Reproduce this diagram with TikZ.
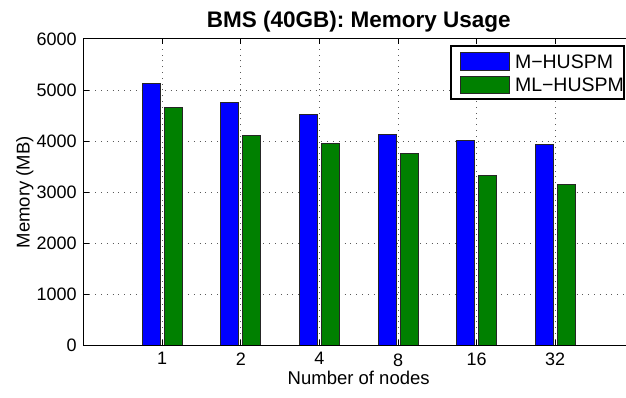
\documentclass[tikz,border=0pt]{standalone}
\usepackage{fontspec}
\setmainfont{Liberation Sans}
\definecolor{barblue}{rgb}{0,0,1}
\definecolor{bargreen}{rgb}{0,0.5,0}
\begin{document}
\begin{tikzpicture}[x=1pt,y=1pt,
  every node/.style={inner sep=0pt, outer sep=0pt},
  ticklabel/.style={font=\fontsize{18}{20}\selectfont},
  axislabel/.style={font=\fontsize{18.5}{21}\selectfont},
  legendlabel/.style={font=\fontsize{19.5}{22}\selectfont},
  titlelabel/.style={font=\fontsize{22.5}{25}\selectfont\bfseries},
  gridline/.style={black!65, line width=0.7pt, dash pattern=on 0.8pt off 5pt},
  axisline/.style={black, line width=1.1pt},
  barM/.style={fill=barblue, draw=black!85, line width=0.9pt},
  barML/.style={fill=bargreen, draw=black!85, line width=0.9pt},
  legendbox/.style={fill=white, draw=black, line width=1.2pt}]
\useasboundingbox (0,0) rectangle (626,398);
\clip (0,0) rectangle (626,398);
\fill[white] (0,0) rectangle (626,398);

% plot area: categories 0..7, memory 0..6000 MB
\begin{scope}[shift={(83.6,52.5)}, x=78.6pt, y=0.0511pt]
  % grid
  \foreach \v in {1000,2000,...,5000}
    \draw[gridline] (0,\v) -- (7,\v);
  \foreach \k in {1,...,6}
    \draw[gridline] (\k,0) -- (\k,6000);
  % bars
  \foreach \k/\m/\ml in {1/5120/4650, 2/4750/4120, 3/4515/3960,
                         4/4125/3755, 5/4005/3320, 6/3930/3160} {
    \draw[barM]  (\k-0.255,0) rectangle (\k-0.025,\m);
    \draw[barML] (\k+0.025,0) rectangle (\k+0.255,\ml);
  }
  % axes box
  \draw[axisline] (7,0) -- (0,0) -- (0,6000) -- (7,6000);
  % tick marks
  \foreach \v in {0,1000,...,6000}
    \draw[axisline, line width=0.8pt] (0,\v) -- ++(5pt,0);
  \foreach \k in {1,...,6} {
    \draw[axisline, line width=0.8pt] (\k,0) -- ++(0,5pt);
    \draw[axisline, line width=0.8pt] (\k,6000) -- ++(0,-5pt);
  }
  % tick labels
  \foreach \v in {0,1000,...,6000}
    \node[ticklabel, anchor=east] (ylab\v) at ([xshift=-7pt]0,\v) {\v};
  \foreach \k/\t in {1/1, 2/2, 3/4, 5/16, 6/32}
    \node[ticklabel, anchor=north] (xlab\k) at ([yshift=-7pt]\k,0) {\t};
  \node[ticklabel, anchor=north] (xlab4) at ([yshift=-8.5pt]4,0) {8};
  % axis labels and title
  \node[axislabel, anchor=north] (xtitle) at ([yshift=-26pt]3.5,0) {Number of nodes};
  \node[axislabel, rotate=90, anchor=base] (ytitle) at ([xshift=-54pt]0,3000) {Memory (MB)};
  \node[titlelabel, anchor=base] (title) at ([yshift=11pt]3.5,6000) {BMS (40GB): Memory Usage};
\end{scope}

% legend
\draw[legendbox] (451,299) rectangle (624,352);
\draw[barM]  (460,328) rectangle (509,345.7);
\draw[barML] (460,304.7) rectangle (509,322);
\node[legendlabel, anchor=west] (legM)  at (515,336.6) {M−HUSPM};
\node[legendlabel, anchor=west] (legML) at (515,313.2) {ML−HUSPM};
\end{tikzpicture}
\end{document}
